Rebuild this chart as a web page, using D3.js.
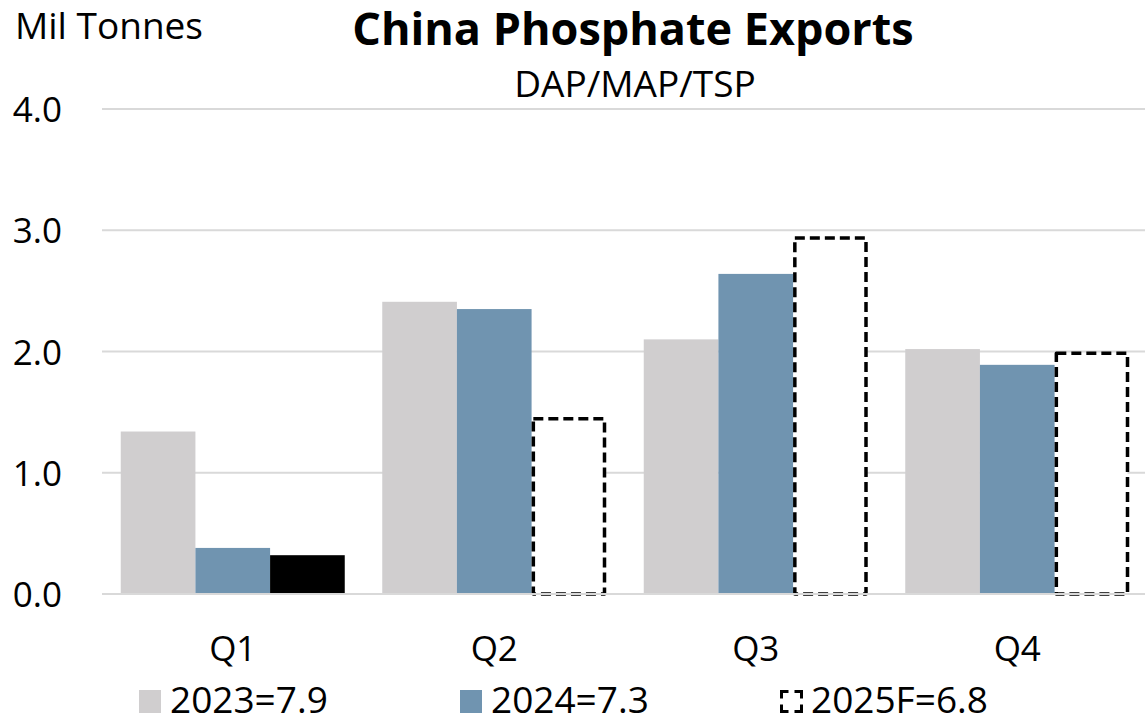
<!DOCTYPE html>
<html>
<head>
<meta charset="utf-8">
<script src="https://cdn.jsdelivr.net/npm/d3@7"></script>
<style>
  html, body { margin: 0; padding: 0; background: #fff; }
  svg { display: block; font-family: "Open Sans", sans-serif; }
</style>
</head>
<body>
<svg id="chart" width="1145" height="720"></svg>
<script>
// Quarterly China phosphate exports (DAP/MAP/TSP), million tonnes
const quarters = ["Q1", "Q2", "Q3", "Q4"];
const seriesNames = ["2023", "2024", "2025F"];
const values2023 = [1.34, 2.41, 2.10, 2.02];
const values2024 = [0.38, 2.35, 2.64, 1.89];
const values2025F = [0.32, 1.46, 2.95, 2.00];
const legendLabels = ["2023=7.9", "2024=7.3", "2025F=6.8"];
const yTicks = [0, 1, 2, 3, 4];

// 2025F: Q1 is actual (solid black), later quarters are forecast (dashed outline)
const forecastFrom = 1;

const svg = d3.select("#chart");
const W = 1145, H = 720;
const plot = { left: 102, right: 1148, top: 109, bottom: 594 };

const y = d3.scaleLinear().domain([0, 4]).range([plot.bottom, plot.top]);
const x0 = d3.scaleBand().domain(quarters).range([plot.left, plot.right])
  .paddingInner(0.1434).paddingOuter(0.0717);
const x1 = d3.scaleBand().domain(seriesNames).range([0, x0.bandwidth()]).padding(0);

const colors = { "2023": "#d0cecf", "2024": "#7094b0" };

const seriesValues = { "2023": values2023, "2024": values2024, "2025F": values2025F };
const rows = [];
seriesNames.forEach(s => {
  quarters.forEach((q, i) => rows.push({ series: s, q, i, v: seriesValues[s][i] }));
});

// Gridlines
const grid = svg.append("g");
grid.selectAll("line").data(yTicks).join("line")
  .attr("x1", plot.left).attr("x2", W)
  .attr("y1", d => y(d)).attr("y2", d => y(d))
  .attr("stroke", "#d9d9d9").attr("stroke-width", 2);

// Bars
const bars = svg.append("g");
rows.forEach(d => {
  const bx = x0(d.q) + x1(d.series);
  const bw = x1.bandwidth();
  if (d.series === "2025F" && d.i >= forecastFrom) {
    bars.append("rect")
      .attr("x", bx + 1.75).attr("y", y(d.v) + 1.75)
      .attr("width", bw - 3.5).attr("height", y(0) - y(d.v) - 1.75)
      .attr("fill", "#fff").attr("stroke", "#000")
      .attr("stroke-width", 3.5).attr("stroke-dasharray", "10,5")
      .attr("stroke-linejoin", "round");
  } else {
    bars.append("rect")
      .attr("x", bx).attr("y", y(d.v))
      .attr("width", bw).attr("height", y(0) - y(d.v))
      .attr("fill", d.series === "2025F" ? "#000" : colors[d.series]);
  }
});

// Baseline over the bars
svg.append("line")
  .attr("x1", plot.left).attr("x2", W)
  .attr("y1", y(0)).attr("y2", y(0))
  .attr("stroke", "#d9d9d9").attr("stroke-width", 2);

// Y axis labels
const yAxis = d3.axisLeft(y).tickValues(yTicks).tickFormat(d3.format(".1f")).tickSize(0).tickPadding(0);
const yg = svg.append("g").attr("transform", "translate(62,0)").call(yAxis);
yg.select(".domain").remove();
yg.selectAll("text").attr("font-size", 35).attr("fill", "#000")
  .attr("font-family", "Open Sans").attr("dy", "0.36em");

// X axis labels
const xAxis = d3.axisBottom(x0).tickSize(0).tickPadding(0);
const xg = svg.append("g").attr("transform", "translate(0,636)").call(xAxis);
xg.select(".domain").remove();
xg.selectAll("text").attr("font-size", 35).attr("fill", "#000")
  .attr("font-family", "Open Sans").attr("dy", "0.71em");

// Titles
svg.append("text").attr("x", 15).attr("y", 39)
  .attr("font-size", 37).text("Mil Tonnes");
svg.append("text").attr("x", 633).attr("y", 45).attr("text-anchor", "middle")
  .attr("font-size", 45).attr("font-weight", "bold").text("China Phosphate Exports");
svg.append("text").attr("x", 635).attr("y", 97).attr("text-anchor", "middle")
  .attr("font-size", 37).text("DAP/MAP/TSP");

// Legend
const legendX = [139, 460, 780];
const lg = svg.append("g");
seriesNames.forEach((s, i) => {
  const gx = legendX[i];
  if (s === "2025F") {
    lg.append("rect").attr("x", gx + 1.5).attr("y", 691.5).attr("width", 20).attr("height", 20)
      .attr("fill", "#fff").attr("stroke", "#000").attr("stroke-width", 3)
      .attr("stroke-dasharray", "14,6").attr("stroke-dashoffset", 7);
  } else {
    lg.append("rect").attr("x", gx).attr("y", 690).attr("width", 22).attr("height", 23)
      .attr("fill", colors[s]);
  }
  lg.append("text").attr("x", gx + 31).attr("y", 713)
    .attr("font-size", 37).text(legendLabels[i]);
});
</script>
</body>
</html>
